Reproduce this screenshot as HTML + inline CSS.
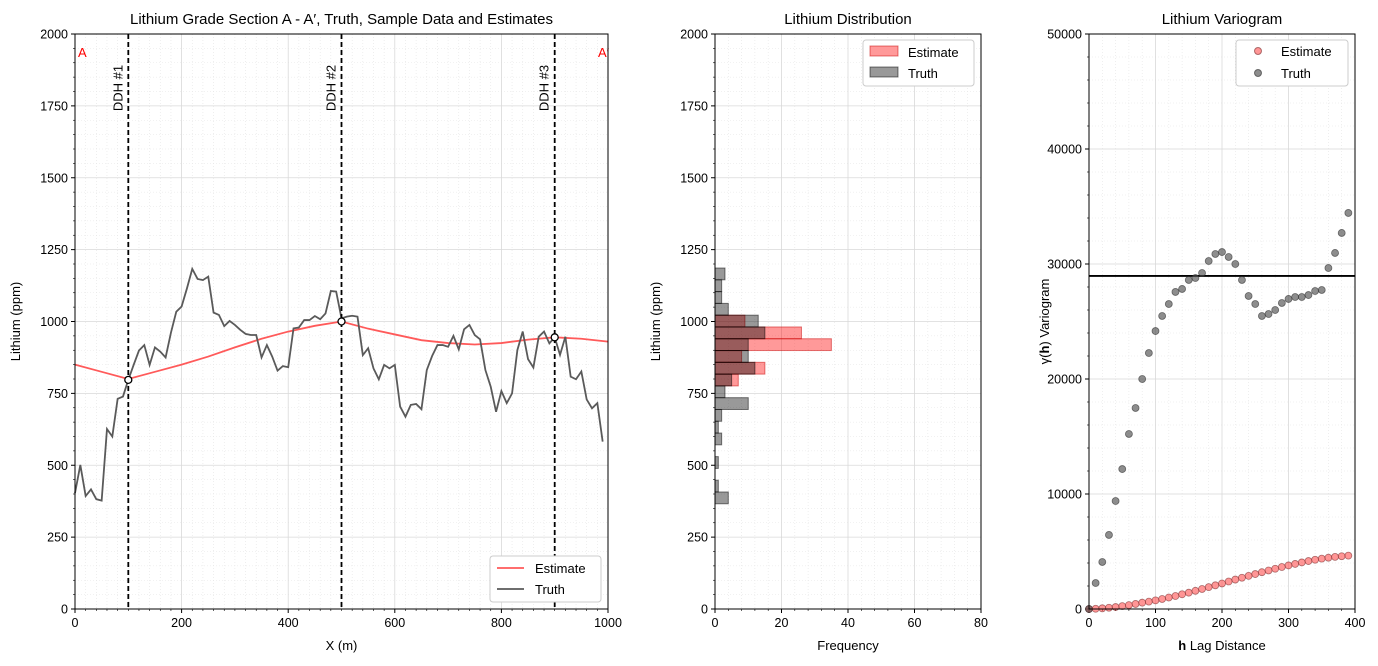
<!DOCTYPE html>
<html><head><meta charset="utf-8"><style>
body{margin:0;background:#fff;}
svg{display:block;font-family:"Liberation Sans","DejaVu Sans",sans-serif;}
</style></head><body>
<svg id="s" width="1378" height="666" xmlns="http://www.w3.org/2000/svg"></svg>
<script>
// ---- data ----
const truthValues=[403,501,393,416,382,377,626,600,731,739,797,849,899,918,849,910,895,875,961,1034,1052,1115,1183,1148,1144,1156,1031,1023,984,1002,988,971,957,953,953,875,918,878,829,845,841,976,979,1005,1005,1019,1008,1028,1106,1104,1011,1017,1020,1017,883,907,837,799,849,837,849,704,669,710,713,695,831,880,918,918,912,950,903,973,988,953,938,831,773,686,758,716,750,901,965,869,840,947,965,924,945,884,947,808,799,826,729,698,716,582];
const truthStep=10;
const estX=[0,50,100,150,200,250,300,350,400,450,500,550,600,650,700,750,800,850,900,950,1000];
const estValues=[850,825,800,825,850,878,910,940,965,985,1000,975,955,935,925,920,925,937,945,940,930];
const drillX=[100,500,900];
const drillNames=["DDH #1","DDH #2","DDH #3"];
const drillVals=[797,1000,945];
const binStart=366, binWidth=41;
const truthCounts=[4,1,0,1,0,2,1,2,10,3,5,12,10,10,15,13,4,2,2,3];
const estCounts=[0,0,0,0,0,0,0,0,0,0,7,15,8,35,26,9,0,0,0,0];
const lags=[0,10,20,30,40,50,60,70,80,90,100,110,120,130,140,150,160,170,180,190,200,210,220,230,240,250,260,270,280,290,300,310,320,330,340,350,360,370,380,390];
const vgTruth=[0,2260,4090,6440,9390,12170,15220,17480,20000,22260,24170,25480,26520,27570,27830,28610,28780,29220,30260,30870,31040,30610,30000,28610,27220,26520,25480,25650,26000,26610,26960,27130,27130,27300,27650,27740,29650,30960,32700,34440];
const vgEst=[0,20,60,110,170,250,340,440,550,640,750,870,1000,1130,1280,1420,1580,1740,1900,2060,2220,2390,2560,2720,2880,3040,3200,3350,3500,3650,3790,3920,4050,4170,4280,4380,4460,4530,4590,4640];
const sill=28960;

const S=document.getElementById('s');const NS='http://www.w3.org/2000/svg';
function el(t,a,p){const e=document.createElementNS(NS,t);for(const k in a)e.setAttribute(k,a[k]);(p||S).appendChild(e);return e;}
function txt(x,y,s,a,p){const e=el('text',Object.assign({x:x,y:y,'font-size':13,fill:'#000'},a),p);e.textContent=s;return e;}
const T=34,B=609;
function axis(name,L,R,xmin,xmax,ymin,ymax,xt,yt,xsub,ysub,title,xl,yl,xfmt){
  const g=el('g',{});
  
  const X=v=>L+(v-xmin)/(xmax-xmin)*(R-L), Y=v=>B-(v-ymin)/(ymax-ymin)*(B-T);
  // minor grid
  for(let i=0;i<xt.length-1;i++)for(let k=1;k<xsub;k++){const v=xt[i]+(xt[i+1]-xt[i])*k/xsub;el('line',{x1:X(v),x2:X(v),y1:T,y2:B,stroke:'#e4e4e4','stroke-width':0.6,'stroke-dasharray':'1,2'},g);
    el('line',{x1:X(v),x2:X(v),y1:B,y2:B+2,stroke:'#000','stroke-width':0.6},g);}
  for(let i=0;i<yt.length-1;i++)for(let k=1;k<ysub;k++){const v=yt[i]+(yt[i+1]-yt[i])*k/ysub;el('line',{x1:L,x2:R,y1:Y(v),y2:Y(v),stroke:'#e4e4e4','stroke-width':0.6,'stroke-dasharray':'1,2'},g);
    el('line',{x1:L-2,x2:L,y1:Y(v),y2:Y(v),stroke:'#000','stroke-width':0.6},g);}
  xt.forEach(v=>{el('line',{x1:X(v),x2:X(v),y1:T,y2:B,stroke:'#d9d9d9','stroke-width':0.8},g);el('line',{x1:X(v),x2:X(v),y1:B,y2:B+4,stroke:'#000'},g);txt(X(v),B+18,String(v),{'text-anchor':'middle','font-size':12.5},g);});
  yt.forEach(v=>{el('line',{x1:L,x2:R,y1:Y(v),y2:Y(v),stroke:'#d9d9d9','stroke-width':0.8},g);el('line',{x1:L-4,x2:L,y1:Y(v),y2:Y(v),stroke:'#000'},g);txt(L-7,Y(v)+4.5,String(v),{'text-anchor':'end','font-size':12.5},g);});
  const t=txt((L+R)/2,24,title,{'text-anchor':'middle','font-size':15,},S);
  txt((L+R)/2,650,'',{'text-anchor':'middle'},g).innerHTML=xl;
  const yx=name==='section-chart'?20:(name==='histogram-chart'?660:1049);
  const yL=txt(yx,(T+B)/2,'',{'text-anchor':'middle','transform':`rotate(-90 ${yx} ${(T+B)/2})`},g);yL.innerHTML=yl;
  return {X,Y,g,L,R};
}
function frame(a){el('rect',{x:a.L,y:T,width:a.R-a.L,height:B-T,fill:'none',stroke:'#000','stroke-width':1},a.g);}

// ---- Panel 1 ----
const a1=axis('section-chart',75,608,0,1000,0,2000,[0,200,400,600,800,1000],[0,250,500,750,1000,1250,1500,1750,2000],10,5,'Lithium Grade Section A - A′, Truth, Sample Data and Estimates','X (m)','Lithium (ppm)');
let d='';estX.forEach((x,i)=>{d+=(i?'L':'M')+a1.X(x)+' '+a1.Y(estValues[i]);});
const pe=el('path',{d:d,fill:'none',stroke:'#ff5a5a','stroke-width':1.8},a1.g);

d='';truthValues.forEach((v,i)=>{d+=(i?'L':'M')+a1.X(i*truthStep)+' '+a1.Y(v);});
const pt=el('path',{d:d,fill:'none',stroke:'#5a5a5a','stroke-width':1.8},a1.g);

drillX.forEach((x,i)=>{
  const l=el('line',{x1:a1.X(x),x2:a1.X(x),y1:T,y2:B,stroke:'#000','stroke-width':1.8,'stroke-dasharray':'5,3'},a1.g);
  
  const c=el('circle',{cx:a1.X(x),cy:a1.Y(drillVals[i]),r:3.5,fill:'#fff',stroke:'#000','stroke-width':1.3},a1.g);
  
  const tx=a1.X(x)-6,ty=88;
  const t=txt(tx,ty,drillNames[i],{'text-anchor':'middle','transform':`rotate(-90 ${tx} ${ty})`},a1.g);
  
});
txt(78,57,'A',{fill:'#ff0000',},a1.g);
txt(598,57,'A′',{fill:'#ff0000',},a1.g);
frame(a1);
const lg1=el('g',{},a1.g);
el('rect',{x:490,y:556,width:111,height:46,rx:3,fill:'#fff',stroke:'#ccc'},lg1);
el('line',{x1:497,x2:524,y1:568,y2:568,stroke:'#ff5a5a','stroke-width':1.8},lg1);txt(535,573,'Estimate',{},lg1);
el('line',{x1:497,x2:524,y1:589,y2:589,stroke:'#5a5a5a','stroke-width':1.8},lg1);txt(535,594,'Truth',{},lg1);

// ---- Panel 2 ----
const a2=axis('histogram-chart',715,981,0,80,0,2000,[0,20,40,60,80],[0,250,500,750,1000,1250,1500,1750,2000],5,5,'Lithium Distribution','Frequency','Lithium (ppm)');
estCounts.forEach((c,i)=>{if(!c)return;const y0=binStart+i*binWidth;
  const r=el('rect',{x:a2.X(0),y:a2.Y(y0+binWidth),width:a2.X(c)-a2.X(0),height:a2.Y(y0)-a2.Y(y0+binWidth),fill:'rgba(255,0,0,0.4)',stroke:'rgba(200,0,0,0.5)','stroke-width':1},a2.g);
  });
truthCounts.forEach((c,i)=>{if(!c)return;const y0=binStart+i*binWidth;
  const r=el('rect',{x:a2.X(0),y:a2.Y(y0+binWidth),width:a2.X(c)-a2.X(0),height:a2.Y(y0)-a2.Y(y0+binWidth),fill:'rgba(0,0,0,0.4)',stroke:'rgba(0,0,0,0.5)','stroke-width':1},a2.g);
  });
frame(a2);
const lg2=el('g',{},a2.g);
el('rect',{x:863,y:40,width:111,height:46,rx:3,fill:'#fff',stroke:'#ccc'},lg2);
el('rect',{x:870,y:46,width:28,height:10,fill:'rgba(255,0,0,0.4)',stroke:'rgba(200,0,0,0.5)'},lg2);txt(908,57,'Estimate',{},lg2);
el('rect',{x:870,y:67,width:28,height:10,fill:'rgba(0,0,0,0.4)',stroke:'rgba(0,0,0,0.5)'},lg2);txt(908,78,'Truth',{},lg2);

// ---- Panel 3 ----
const a3=axis('variogram-chart',1089,1355,0,400,0,50000,[0,100,200,300,400],[0,10000,20000,30000,40000,50000],5,5,'Lithium Variogram','<tspan font-weight="bold">h</tspan> Lag Distance','γ(<tspan font-weight="bold">h</tspan>) Variogram');
const sl=el('line',{x1:a3.L,x2:a3.R,y1:a3.Y(sill),y2:a3.Y(sill),stroke:'#000','stroke-width':1.8},a3.g);

lags.forEach((h,i)=>{
  const c=el('circle',{cx:a3.X(h),cy:a3.Y(vgEst[i]),r:3.5,fill:'rgba(255,80,80,0.6)',stroke:'rgba(120,40,40,0.6)','stroke-width':0.8},a3.g);
  
  const c2=el('circle',{cx:a3.X(h),cy:a3.Y(vgTruth[i]),r:3.5,fill:'rgba(80,80,80,0.65)',stroke:'rgba(40,40,40,0.6)','stroke-width':0.8},a3.g);
  
});
frame(a3);
const lg3=el('g',{},a3.g);
el('rect',{x:1236,y:40,width:112,height:46,rx:3,fill:'#fff',stroke:'#ccc'},lg3);
el('circle',{cx:1258,cy:51,r:3.5,fill:'rgba(255,80,80,0.6)',stroke:'rgba(120,40,40,0.6)'},lg3);txt(1281,56,'Estimate',{},lg3);
el('circle',{cx:1258,cy:73,r:3.5,fill:'rgba(80,80,80,0.65)',stroke:'rgba(40,40,40,0.6)'},lg3);txt(1281,78,'Truth',{},lg3);
</script>
</body></html>
